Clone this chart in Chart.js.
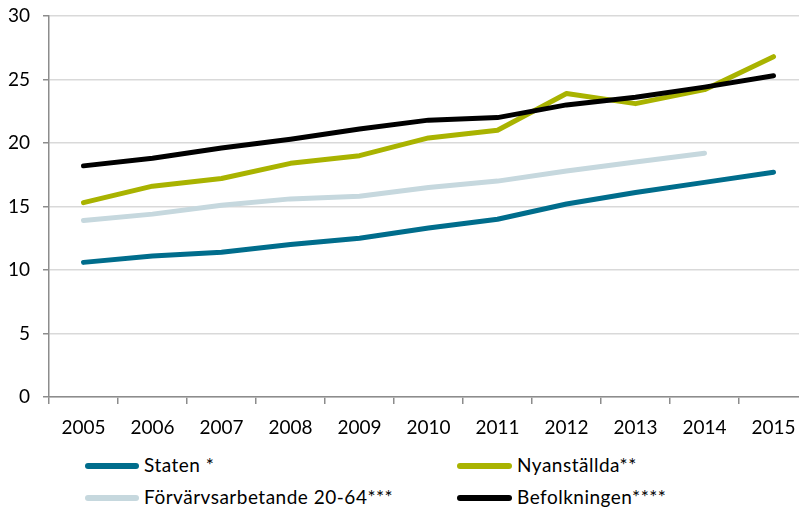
<!DOCTYPE html>
<html>
<head>
<meta charset="utf-8">
<script src="https://cdn.jsdelivr.net/npm/chart.js@4/dist/chart.umd.min.js"></script>
<style>
  html, body { margin: 0; padding: 0; overflow: hidden; background: #fff; width: 799px; height: 510px; }
  #wrap { position: absolute; left: 0; top: 0; width: 808px; height: 440px; }
  .leg { position: absolute; font-family: Lato, "Open Sans", sans-serif; font-size: 19px; letter-spacing: 0.5px; color: #000; white-space: nowrap; }
  .leg .sw { position: absolute; height: 6px; border-radius: 3px; }
  .leg .tx { position: absolute; line-height: 22px; }
</style>
</head>
<body>
<div id="wrap"><canvas id="c" width="808" height="440"></canvas></div>
<div id="legend"></div>
<script>
const years = ['2005', '2006', '2007', '2008', '2009', '2010', '2011', '2012', '2013', '2014', '2015'];
const seriesNames = ['Staten *', 'Nyanställda**', 'Förvärvsarbetande 20-64***', 'Befolkningen****'];
const staten       = [10.6, 11.1, 11.4, 12.0, 12.5, 13.3, 14.0, 15.2, 16.1, 16.9, 17.7];
const nyanstallda  = [15.3, 16.6, 17.2, 18.4, 19.0, 20.4, 21.0, 23.9, 23.1, 24.2, 26.8];
const forvarvs     = [13.9, 14.4, 15.1, 15.6, 15.8, 16.5, 17.0, 17.8, 18.5, 19.2, null];
const befolkningen = [18.2, 18.8, 19.6, 20.3, 21.1, 21.8, 22.0, 23.0, 23.6, 24.4, 25.3];
const yTicks = [0, 5, 10, 15, 20, 25, 30];

const colors = ['#006D8C', '#A9B300', '#C6D8DE', '#000000'];
const values = [staten, nyanstallda, forvarvs, befolkningen];
const axisGrey = '#8C8C8C';
const FONT = { family: 'Lato, "Open Sans", sans-serif', size: 19 };

const datasets = values.map((v, i) => ({
  label: seriesNames[i],
  data: v,
  borderColor: colors[i],
  backgroundColor: colors[i],
  borderWidth: 5,
  pointRadius: 0,
  pointHoverRadius: 0,
  tension: 0,
  fill: false,
  borderCapStyle: 'round',
  borderJoinStyle: 'round',
  order: 4 - i
}));

const chart = new Chart(document.getElementById('c'), {
  type: 'line',
  data: { labels: years, datasets },
  options: {
    responsive: false,
    animation: false,
    layout: { padding: { top: 16, right: 0, bottom: 0, left: 0 } },
    plugins: { legend: { display: false }, tooltip: { enabled: false } },
    scales: {
      x: {
        offset: true,
        grid: { display: true, drawOnChartArea: false, offset: true, tickLength: 7, tickColor: axisGrey, lineWidth: 1.5 },
        border: { display: true, color: axisGrey, width: 1.5 },
        ticks: { color: '#000', font: FONT, padding: 12, maxRotation: 0, autoSkip: false },
        afterFit: (s) => { s.height = 43; s.paddingLeft = 0; s.paddingRight = 0; }
      },
      y: {
        min: 0, max: 30,
        afterBuildTicks: (s) => { s.ticks = yTicks.map(v => ({ value: v })); },
        grid: { color: '#D9D9D9', lineWidth: 1.5, tickLength: 6, tickColor: axisGrey },
        border: { display: true, color: axisGrey, width: 1.5 },
        ticks: { color: '#000', font: FONT, padding: 13 },
        afterFit: (s) => { s.width = 49; s.paddingTop = 0; s.paddingBottom = 0; }
      }
    }
  }
});

// HTML legend in two columns, built from the chart's datasets
const legPos = [
  { x: 85, y: 466, w: 54, tx: 144 },
  { x: 457, y: 466, w: 55, tx: 517 },
  { x: 85, y: 498, w: 54, tx: 144 },
  { x: 457, y: 498, w: 55, tx: 517 }
];
const legend = document.getElementById('legend');
chart.data.datasets.forEach((ds, i) => {
  const p = legPos[i];
  const item = document.createElement('div');
  item.className = 'leg';
  const sw = document.createElement('div');
  sw.className = 'sw';
  sw.style.left = p.x + 'px';
  sw.style.top = (p.y - 3) + 'px';
  sw.style.width = p.w + 'px';
  sw.style.background = ds.borderColor;
  const tx = document.createElement('div');
  tx.className = 'tx';
  tx.style.left = p.tx + 'px';
  tx.style.top = (p.y - 12) + 'px';
  tx.textContent = ds.label;
  item.appendChild(sw);
  item.appendChild(tx);
  legend.appendChild(item);
});
</script>
</body>
</html>
